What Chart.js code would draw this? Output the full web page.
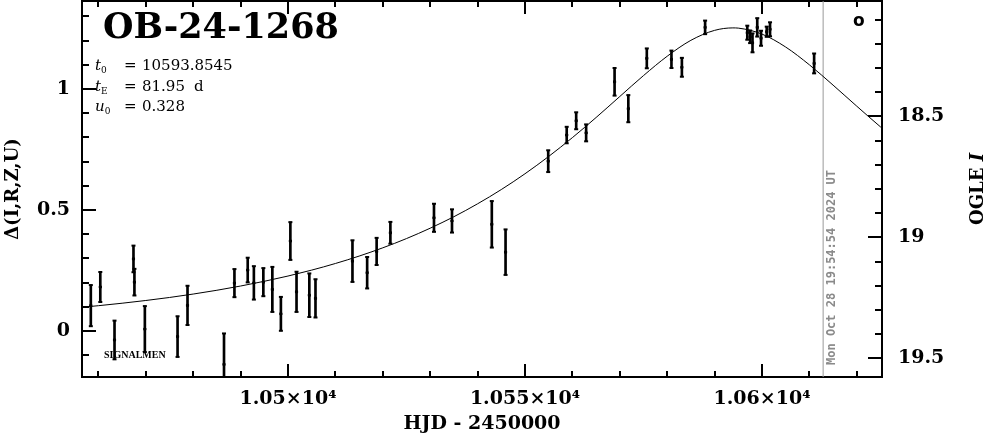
<!DOCTYPE html>
<html><head><meta charset="utf-8">
<script src="https://cdn.jsdelivr.net/npm/chart.js@4"></script>
<style>
html,body{margin:0;padding:0;background:#fff;}
#wrap{position:relative;width:986px;height:434px;overflow:hidden;background:#fff;}
#c{position:absolute;left:0;top:0;}
.t{position:absolute;white-space:nowrap;color:#000;font-family:'DejaVu Serif',serif;}
#title{left:103px;top:8px;font-size:35px;line-height:35px;font-weight:bold;}
.p{font-size:15px;line-height:15px;}
.sub{position:relative;top:3px;font-size:9px;}
#sig{left:104px;top:350px;font-family:'Liberation Serif',serif;font-size:10px;line-height:10px;font-weight:bold;}
#sym{left:853px;top:12px;font-family:'DejaVu Sans',sans-serif;font-size:17px;line-height:17px;font-weight:bold;}
.rot{transform:rotate(-90deg);transform-origin:0 0;}
#ogle{left:968px;top:225px;font-size:18px;line-height:18px;font-weight:bold;}
#stamp{left:825px;top:365px;font-family:'DejaVu Sans Mono',monospace;font-size:12px;line-height:12px;font-weight:bold;color:#8a8a8a;}
</style></head><body>
<div id="wrap">
<canvas id="c" width="986" height="434"></canvas>
<div class="t" id="title">OB-24-1268</div>
<div class="t p" style="left:95px;top:58px;"><i>t</i><span class="sub">0</span></div>
<div class="t p" style="left:124px;top:58px;">=</div>
<div class="t p" style="left:142px;top:58px;">10593.8545</div>
<div class="t p" style="left:95px;top:79px;"><i>t</i><span class="sub">E</span></div>
<div class="t p" style="left:124px;top:79px;">=</div>
<div class="t p" style="left:142px;top:79px;">81.95</div>
<div class="t p" style="left:194px;top:79px;">d</div>
<div class="t p" style="left:95px;top:99px;"><i>u</i><span class="sub">0</span></div>
<div class="t p" style="left:124px;top:99px;">=</div>
<div class="t p" style="left:142px;top:99px;">0.328</div>
<div class="t" id="sig">SIGNALMEN</div>
<div class="t" id="sym">o</div>
<div class="t rot" id="ogle">OGLE <i>I</i></div>
<div class="t rot" id="stamp">Mon Oct 28 19:54:54 2024 UT</div>
</div>
<script>
// observed points: HJD-2450000, delta magnitude, error
const obsTime = [10458.4,10460.4,10463.4,10467.4,10467.6,10469.8,10476.7,10478.8,10486.5,10488.7,
  10491.5,10492.8,10494.8,10496.7,10498.5,10500.5,10501.8,10504.5,10505.8,10513.6,
  10516.7,10518.7,10521.6,10530.8,10534.6,10543.0,10545.9,10554.9,10558.8,10560.8,
  10562.9,10568.9,10571.8,10575.7,10580.9,10583.1,10588.0,10596.9,10597.5,10598.0,
  10599.0,10599.8,10601.0,10601.7,10611.0];
const obsDelta = [0.105,0.182,-0.037,0.298,0.202,0.008,-0.023,0.106,-0.138,0.198,
  0.252,0.199,0.202,0.172,0.071,0.372,0.162,0.148,0.135,0.289,
  0.241,0.329,0.406,0.468,0.455,0.441,0.326,0.702,0.810,0.869,
  0.819,1.030,0.919,1.127,1.123,1.090,1.255,1.233,1.216,1.191,
  1.255,1.210,1.237,1.247,1.106];
const obsError = [0.085,0.062,0.080,0.055,0.055,0.095,0.084,0.081,0.128,0.058,
  0.051,0.069,0.058,0.093,0.070,0.078,0.083,0.090,0.079,0.086,
  0.065,0.056,0.045,0.058,0.048,0.096,0.094,0.045,0.034,0.035,
  0.035,0.057,0.056,0.041,0.036,0.039,0.028,0.029,0.026,0.039,
  0.038,0.031,0.021,0.029,0.041];
// model curve
const modelTime = [10455,10460,10465,10470,10475,10480,10485,10490,10495,10500,
  10505,10510,10515,10520,10525,10530,10535,10540,10545,10550,
  10555,10560,10565,10570,10575,10580,10585,10590,10593.85,10595,
  10600,10605,10610,10615,10620,10625,10630];
const modelDelta = [0.0955,0.1047,0.1149,0.1262,0.1387,0.1528,0.1685,0.1860,0.2056,0.2273,
  0.2518,0.2791,0.3097,0.3439,0.3821,0.4250,0.4725,0.5258,0.5847,0.6500,
  0.7216,0.7993,0.8825,0.9693,1.0557,1.1357,1.2015,1.2426,1.2528,1.2519,
  1.2272,1.1737,1.1002,1.0163,0.9292,0.8438,0.7629];
const stampTime = [10612.9];
// axis ranges and tick labels
const xRange = [10456.54, 10625.32];
const deltaRange = [-0.19, 1.364];
const magRange = [18.023, 19.577];
const xTickValues = [10500, 10550, 10600];
const xTickLabels = ['1.05×10⁴', '1.055×10⁴', '1.06×10⁴'];
const deltaTickValues = [0, 0.5, 1];
const deltaTickLabels = ['0', '0.5', '1'];
const magTickValues = [18.5, 19, 19.5];
const magTickLabels = ['18.5', '19', '19.5'];

const errBars = obsTime.map((t, i) => ({x: t, y: [obsDelta[i] - obsError[i], obsDelta[i] + obsError[i]]}));
const caps = [];
obsTime.forEach((t, i) => { caps.push({x: t, y: obsDelta[i] - obsError[i]}); caps.push({x: t, y: obsDelta[i] + obsError[i]}); });
const centers = obsTime.map((t, i) => ({x: t, y: obsDelta[i]}));
const model = modelTime.map((t, i) => ({x: t, y: modelDelta[i]}));
const stampLine = [{x: stampTime[0], y: deltaRange[0]}, {x: stampTime[0], y: deltaRange[1]}];

const FONT = 'DejaVu Serif';
const tickFont = {family: FONT, size: 19, weight: 'bold'};
const noPad = s => { s.paddingTop = 0; s.paddingBottom = 0; s.paddingLeft = 0; s.paddingRight = 0; };

const innerTicks = {
  id: 'innerTicks',
  afterDatasetsDraw(chart) {
    const {ctx, chartArea: a, scales} = chart;
    ctx.save();
    ctx.strokeStyle = '#000';
    ctx.lineWidth = 2;
    const line = (x1, y1, x2, y2) => { ctx.beginPath(); ctx.moveTo(x1, y1); ctx.lineTo(x2, y2); ctx.stroke(); };
    const sx = scales.x;
    for (let k = Math.ceil(sx.min / 10); k * 10 <= sx.max; k++) {
      const p = Math.round(sx.getPixelForValue(k * 10));
      const L = (k % 5 === 0) ? 13 : 6;
      line(p, a.bottom, p, a.bottom - L);
      line(p, a.top, p, a.top + L);
    }
    const sy = scales.y;
    for (let k = Math.ceil(sy.min * 10); k <= Math.floor(sy.max * 10); k++) {
      const p = Math.round(sy.getPixelForValue(k / 10));
      const L = (k % 5 === 0) ? 14 : 7;
      line(a.left, p, a.left + L, p);
    }
    const sm = scales.y2;
    for (let k = Math.ceil(sm.min * 10); k <= Math.floor(sm.max * 10); k++) {
      const p = Math.round(sm.getPixelForValue(k / 10));
      const L = (k % 5 === 0) ? 14 : 7;
      line(a.right, p, a.right - L, p);
    }
    ctx.restore();
  }
};

new Chart(document.getElementById('c'), {
  type: 'scatter',
  data: {
    datasets: [
      {type: 'line', data: model, borderColor: '#000', borderWidth: 1, pointRadius: 0,
       cubicInterpolationMode: 'monotone', fill: false, order: 0},
      {type: 'scatter', data: centers, pointStyle: 'rect', radius: 1.5, backgroundColor: '#000',
       borderColor: '#000', borderWidth: 1, order: 1},
      {type: 'scatter', data: caps, pointStyle: 'line', radius: 2, borderColor: '#000', borderWidth: 2, order: 1},
      {type: 'bar', data: errBars, backgroundColor: '#000', borderWidth: 0, barThickness: 2, order: 2},
      {type: 'line', data: stampLine, borderColor: '#999', borderWidth: 1, pointRadius: 0, fill: false, order: 3}
    ]
  },
  options: {
    responsive: false,
    animation: false,
    devicePixelRatio: 1,
    layout: {autoPadding: false, padding: {top: 1, left: 0, right: 0, bottom: 0}},
    plugins: {legend: {display: false}, tooltip: {enabled: false}},
    scales: {
      x: {
        type: 'linear', position: 'bottom', min: xRange[0], max: xRange[1], offset: false,
        grid: {display: false, drawTicks: false},
        border: {display: true, color: '#000', width: 2},
        afterBuildTicks: s => { s.ticks = xTickValues.map(v => ({value: v})); },
        ticks: {autoSkip: false, maxRotation: 0, minRotation: 0, padding: 11, color: '#000', font: tickFont,
                callback: v => xTickLabels[xTickValues.indexOf(v)]},
        title: {display: true, text: 'HJD - 2450000', color: '#000', padding: {top: 0, bottom: 0},
                font: {family: FONT, size: 19, weight: 'bold', lineHeight: 1}},
        afterFit: s => { s.height = 57; noPad(s); }
      },
      x2: {
        type: 'linear', position: 'top', min: xRange[0], max: xRange[1], offset: false,
        grid: {display: false, drawTicks: false},
        border: {display: true, color: '#000', width: 2},
        ticks: {display: false},
        afterFit: s => { s.height = 0; noPad(s); }
      },
      y: {
        type: 'linear', position: 'left', min: deltaRange[0], max: deltaRange[1],
        grid: {display: false, drawTicks: false},
        border: {display: true, color: '#000', width: 2},
        afterBuildTicks: s => { s.ticks = deltaTickValues.map(v => ({value: v})); },
        ticks: {autoSkip: false, padding: 12, color: '#000', font: tickFont,
                callback: v => deltaTickLabels[deltaTickValues.indexOf(v)]},
        title: {display: true, text: 'Δ(I,R,Z,U)', color: '#000', padding: {top: 4, bottom: 0},
                font: {family: FONT, size: 18, weight: 'bold', lineHeight: 1}},
        afterFit: s => { s.width = 82; noPad(s); }
      },
      y2: {
        type: 'linear', position: 'right', reverse: true, min: magRange[0], max: magRange[1],
        grid: {display: false, drawTicks: false},
        border: {display: true, color: '#000', width: 2},
        afterBuildTicks: s => { s.ticks = magTickValues.map(v => ({value: v})); },
        ticks: {autoSkip: false, padding: 16, color: '#000', font: tickFont,
                callback: v => magTickLabels[magTickValues.indexOf(v)]},
        afterFit: s => { s.width = 104; noPad(s); }
      }
    }
  },
  plugins: [innerTicks]
});
</script>
</body></html>
